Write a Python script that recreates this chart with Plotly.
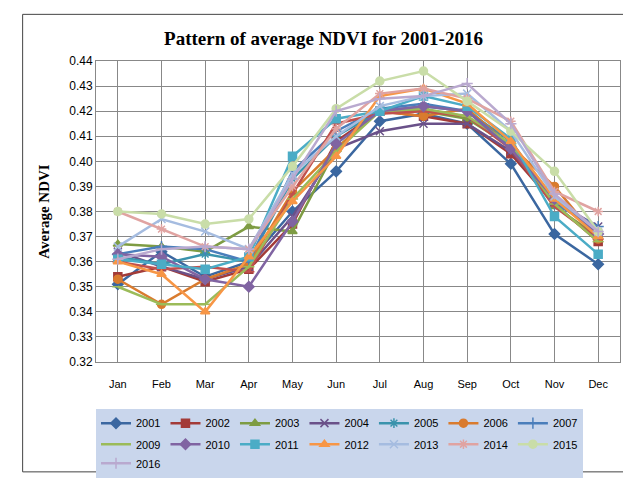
import plotly.graph_objects as go

months = ["Jan", "Feb", "Mar", "Apr", "May", "Jun", "Jul", "Aug", "Sep", "Oct", "Nov", "Dec"]
years = ["2001", "2002", "2003", "2004", "2005", "2006", "2007", "2008",
         "2009", "2010", "2011", "2012", "2013", "2014", "2015", "2016"]

ndvi_2001 = [0.351, 0.364, 0.354, 0.360, 0.380, 0.396, 0.416, 0.419, 0.415, 0.399, 0.371, 0.359]
ndvi_2002 = [0.354, 0.358, 0.352, 0.357, 0.375, 0.408, 0.420, 0.418, 0.415, 0.403, 0.383, 0.368]
ndvi_2003 = [0.367, 0.366, 0.364, 0.374, 0.372, 0.405, 0.421, 0.420, 0.417, 0.406, 0.382, 0.370]
ndvi_2004 = [0.364, 0.358, 0.353, 0.358, 0.378, 0.405, 0.412, 0.415, 0.415, 0.404, 0.384, 0.374]
ndvi_2005 = [0.362, 0.359, 0.363, 0.360, 0.393, 0.410, 0.420, 0.422, 0.420, 0.408, 0.384, 0.372]
ndvi_2006 = [0.353, 0.343, 0.353, 0.359, 0.388, 0.405, 0.420, 0.418, 0.421, 0.406, 0.390, 0.369]
ndvi_2007 = [0.363, 0.366, 0.365, 0.360, 0.396, 0.412, 0.421, 0.423, 0.420, 0.406, 0.383, 0.374]
ndvi_2008 = [0.360, 0.357, 0.358, 0.356, 0.387, 0.415, 0.419, 0.420, 0.418, 0.405, 0.382, 0.369]
ndvi_2009 = [0.350, 0.343, 0.343, 0.358, 0.385, 0.404, 0.420, 0.421, 0.418, 0.407, 0.383, 0.368]
ndvi_2010 = [0.363, 0.362, 0.353, 0.350, 0.376, 0.407, 0.420, 0.422, 0.420, 0.405, 0.385, 0.371]
ndvi_2011 = [0.361, 0.359, 0.357, 0.362, 0.402, 0.417, 0.420, 0.426, 0.422, 0.409, 0.378, 0.363]
ndvi_2012 = [0.360, 0.355, 0.340, 0.362, 0.384, 0.402, 0.426, 0.429, 0.423, 0.408, 0.385, 0.370]
ndvi_2013 = [0.366, 0.377, 0.372, 0.365, 0.395, 0.410, 0.422, 0.426, 0.427, 0.412, 0.386, 0.372]
ndvi_2014 = [0.380, 0.373, 0.366, 0.365, 0.390, 0.413, 0.427, 0.429, 0.425, 0.416, 0.388, 0.380]
ndvi_2015 = [0.380, 0.379, 0.375, 0.377, 0.398, 0.421, 0.432, 0.436, 0.424, 0.412, 0.396, 0.372]
ndvi_2016 = [0.361, 0.365, 0.366, 0.365, 0.393, 0.420, 0.425, 0.426, 0.431, 0.415, 0.387, 0.372]

series = [ndvi_2001, ndvi_2002, ndvi_2003, ndvi_2004, ndvi_2005, ndvi_2006, ndvi_2007, ndvi_2008,
          ndvi_2009, ndvi_2010, ndvi_2011, ndvi_2012, ndvi_2013, ndvi_2014, ndvi_2015, ndvi_2016]

colors = ["#3B67A0", "#A33B38", "#7E9C43", "#6A5189", "#3A93AC", "#D97B2E",
          "#4A7EBB", "#C0504D", "#9BBB59", "#8064A2", "#4BACC6", "#F79646",
          "#A5BCE0", "#E0A3A1", "#C9DDA8", "#B9A9CF"]
symbols = ["diamond", "square", "triangle-up", "x-thin-open", "asterisk-open", "circle",
           "cross-thin-open", "line-ew-open", "line-ew-open", "diamond", "square", "triangle-up",
           "x-thin-open", "asterisk-open", "circle", "cross-thin-open"]

fig = go.Figure()
for i, (name, vals, c, s) in enumerate(zip(years, series, colors, symbols)):
    fig.add_trace(go.Scatter(
        x=months, y=vals, name=name, mode="lines+markers",
        legend="legend" if i < 8 else "legend2",
        line=dict(color=c, width=2.5),
        marker=dict(symbol=s, size=8, color=c, line=dict(color=c, width=1.5)),
    ))

leg = dict(orientation="h", x=0.0, xanchor="left", yanchor="top",
           bgcolor="#c9d6ec", borderwidth=0, itemwidth=30,
           font=dict(size=11), tracegroupgap=0)

fig.update_layout(
    width=631, height=482,
    paper_bgcolor="white", plot_bgcolor="white",
    margin=dict(l=88, r=19, t=53, b=105),
    title=dict(text="<b>Pattern of average NDVI for 2001-2016</b>", x=0.5, xanchor="center", y=0.95,
               font=dict(family="Liberation Serif", size=19, color="black")),
    font=dict(family="Liberation Sans", size=11, color="black"),
    legend=dict(leg, y=-0.155),
    legend2=dict(leg, y=-0.225),
    shapes=[dict(type="rect", xref="paper", yref="paper", x0=-0.14, x1=1.035, y0=-0.365, y1=1.155,
                 line=dict(color="#444", width=1))],
)
fig.update_xaxes(showgrid=True, gridcolor="#888", showline=True, linecolor="#888", mirror=True,
                 ticks="", range=[-0.5, 11.5], ticklabelstandoff=12)
fig.update_yaxes(range=[0.32, 0.44], dtick=0.01, tickformat=".2f", showgrid=True, gridcolor="#888",
                 showline=True, linecolor="#888", mirror=True, zeroline=False,
                 tickfont=dict(size=12),
                 title=dict(text="<b>Average NDVI</b>", font=dict(family="Liberation Serif", size=15)))

fig.write_html("out.html")
